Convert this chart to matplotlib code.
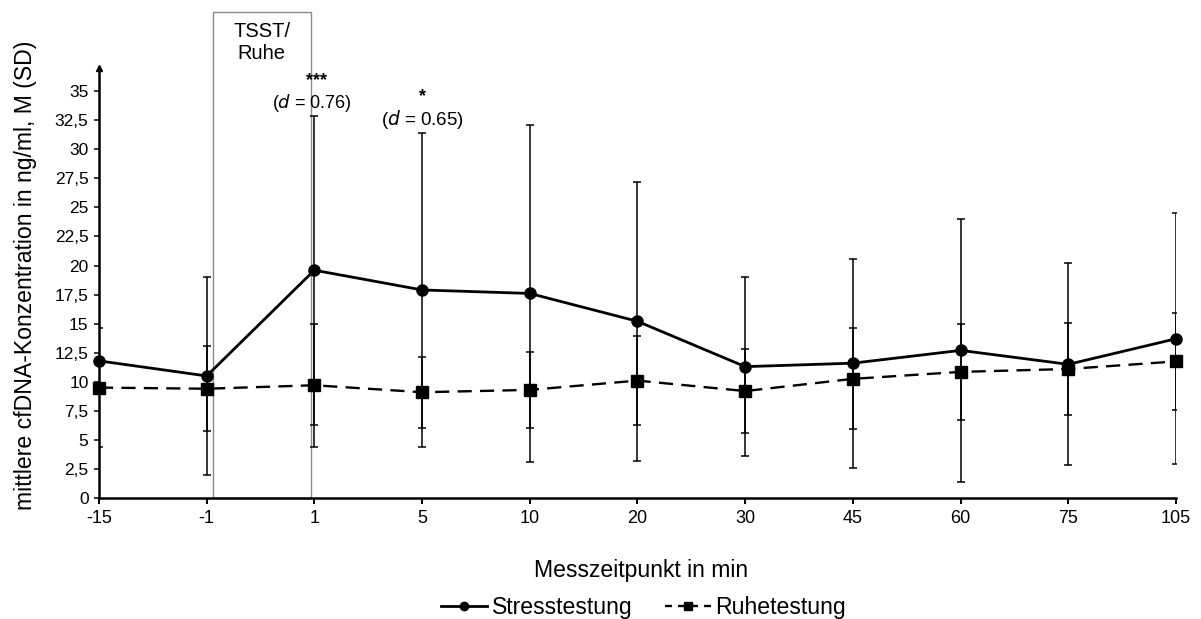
import numpy as np
import matplotlib
matplotlib.use("Agg")
import matplotlib.pyplot as plt
from matplotlib.patches import Rectangle
from matplotlib.lines import Line2D

plt.rcParams['font.family'] = ['Liberation Sans', 'DejaVu Sans']

# Messzeitpunkte (min) und Mittelwerte / SD (ng/ml)
time_labels = ['-15', '-1', '1', '5', '10', '20', '30', '45', '60', '75', '105']
stress_mean = [11.8, 10.5, 19.6, 17.9, 17.6, 15.2, 11.3, 11.6, 12.7, 11.5, 13.7]
stress_sd = [np.nan, 8.5, 13.3, 13.5, 14.5, 12.0, 7.7, 9.0, 11.3, 8.7, 10.8]
ruhe_mean = [9.5, 9.4, 9.7, 9.1, 9.3, 10.1, 9.2, 10.25, 10.85, 11.1, 11.75]
ruhe_sd = [5.15, 3.65, 5.3, 3.05, 3.3, 3.8, 3.65, 4.35, 4.15, 3.95, 4.15]
y_ticks = np.arange(0, 35.1, 2.5)

x = np.arange(len(time_labels))

fig = plt.figure(figsize=(12.01, 6.19), dpi=100)
ax = fig.add_axes([0.0824, 0.1955, 0.8968, 0.6947])

# error bars (clipped at the axes edges like the original)
for mean, sd in [(stress_mean, stress_sd), (ruhe_mean, ruhe_sd)]:
    ax.errorbar(x, mean, yerr=sd, fmt='none', ecolor='black',
                elinewidth=1.1, capsize=3, capthick=1.1, zorder=3)

ax.plot(x, stress_mean, color='black', lw=2.0, marker='o', ms=8,
        clip_on=False, zorder=5)
ax.plot(x, ruhe_mean, color='black', lw=1.7, dashes=(6, 3.5), marker='s',
        ms=8, clip_on=False, zorder=4)

ax.set_xlim(0, len(x) - 1)
ax.set_ylim(0, 37)
ax.set_xticks(x)
ax.set_xticklabels(time_labels, fontsize=13)
ax.set_yticks(y_ticks)
ax.set_yticklabels([f"{v:g}".replace('.', ',') for v in y_ticks], fontsize=12.5)
ax.tick_params(axis='y', direction='out', length=3.5, width=1.1, pad=4)
ax.tick_params(axis='x', direction='out', length=4, width=1.4, pad=5)

for s in ['top', 'right']:
    ax.spines[s].set_visible(False)
for s in ['left', 'bottom']:
    ax.spines[s].set_linewidth(1.8)
ax.plot([0], [1], marker='^', ms=5, color='black', transform=ax.transAxes,
        clip_on=False)

# TSST / Ruhe Kasten
ax.add_patch(Rectangle((1.057, 0), 0.911, 41.8, fill=False, edgecolor='#8a8a8a',
                       lw=1.0, clip_on=False, zorder=2))
ax.text(1.51, 39.2, 'TSST/\nRuhe', ha='center', va='center', fontsize=14.5,
        linespacing=1.2)

# Signifikanzen
ax.text(2.02, 35.9, '***', ha='center', va='center', fontsize=13, fontweight='bold')
ax.text(1.98, 34.0, '($\\it{d}$ = 0.76)', ha='center', va='center', fontsize=13)
ax.text(3, 34.5, '*', ha='center', va='center', fontsize=13, fontweight='bold')
ax.text(3, 32.6, '($\\it{d}$ = 0.65)', ha='center', va='center', fontsize=13.4)

fig.text(0.021, 0.556, 'mittlere cfDNA-Konzentration in ng/ml, M (SD)',
         rotation=90, ha='center', va='center', fontsize=16.6)
fig.text(0.534, 0.079, 'Messzeitpunkt in min', ha='center', va='center',
         fontsize=16.6)

handles = [
    Line2D([], [], color='black', lw=2.0, marker='o', ms=6),
    Line2D([], [], color='black', lw=1.7, dashes=(3, 2.5), marker='s', ms=6),
]
fig.legend(handles, ['Stresstestung', 'Ruhetestung'], loc='center',
           bbox_to_anchor=(0.536, 0.018), ncol=2, frameon=False, fontsize=16.6,
           handlelength=2.0, handletextpad=0.2, columnspacing=1.4)

fig.savefig('out.png', dpi=100)
